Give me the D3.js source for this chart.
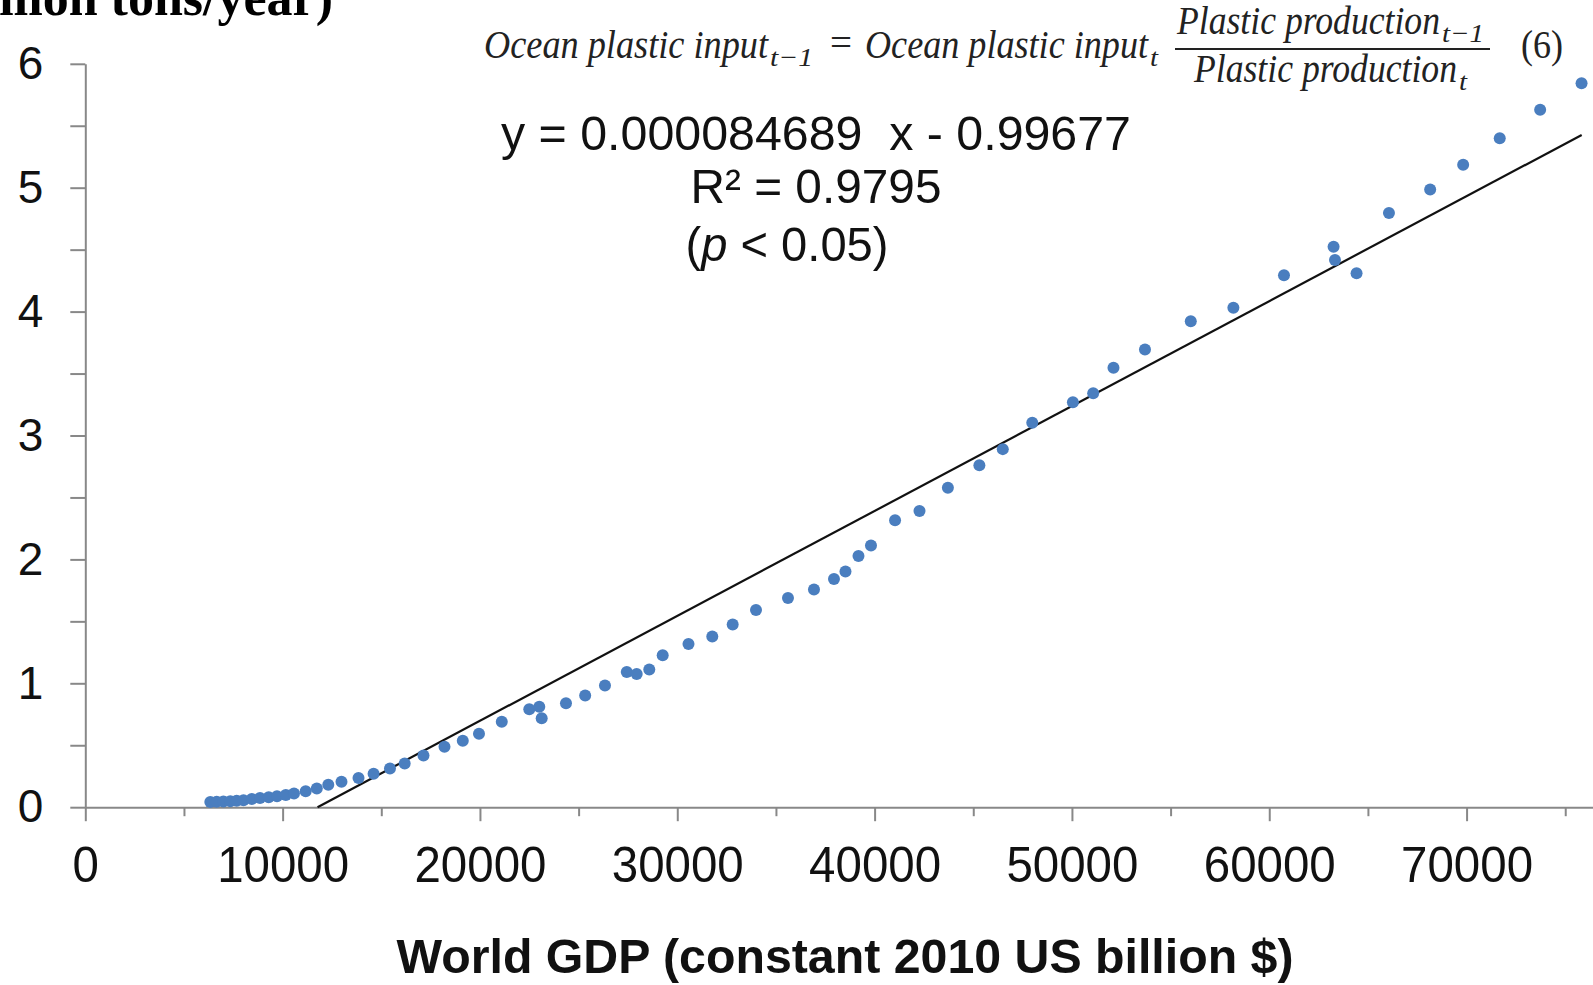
<!DOCTYPE html>
<html>
<head>
<meta charset="utf-8">
<script src="https://cdn.jsdelivr.net/npm/d3@7"></script>
<style>
  html, body { margin: 0; padding: 0; background: #fff; overflow: hidden; }
  svg { display: block; }
</style>
</head>
<body>
<script>
// ---------------- DATA ----------------
// World GDP (constant 2010 US billion $)
const gdp = [
  6335, 6659, 6998, 7348, 7672, 8017, 8438, 8853, 9294, 9715,
  10161, 10576, 11169, 11732, 12314, 12983, 13845, 14610, 15441, 16186,
  17139, 18203, 19130, 19951, 21106, 22500, 23007, 23129, 24360, 25333,
  26336, 27441, 27943, 28581, 29261, 30568, 31774, 32808, 33989, 35610,
  36928, 37941, 38524, 39183, 39817, 41037, 42275, 43714, 45310, 46496,
  47990, 50049, 51077, 52106, 53702, 56023, 58182, 60747, 63260, 63331,
  64425, 66067, 68155, 69827, 71681, 73729, 75827
];
// Ocean plastic input (million tons/year)
const oceanInput = [
  0.042, 0.044, 0.046, 0.048, 0.052, 0.056, 0.066, 0.074, 0.081, 0.088,
  0.098, 0.111, 0.129, 0.151, 0.181, 0.205, 0.235, 0.270, 0.313, 0.352,
  0.418, 0.488, 0.536, 0.592, 0.690, 0.790, 0.811, 0.718, 0.839, 0.902,
  0.983, 1.091, 1.075, 1.111, 1.226, 1.317, 1.378, 1.475, 1.592, 1.688,
  1.757, 1.842, 1.902, 2.027, 2.112, 2.316, 2.391, 2.579, 2.759, 2.890,
  3.103, 3.268, 3.341, 3.546, 3.694, 3.923, 4.031, 4.293, 4.523, 4.416,
  4.309, 4.796, 4.985, 5.185, 5.400, 5.629, 5.843
];
// Linear trend (slope, intercept) and its drawn x-extent
const trendSlope = 0.000084689;
const trendIntercept = -0.99677;
const trendXEnd = 75834;

const xMajorTicks = [0, 10000, 20000, 30000, 40000, 50000, 60000, 70000];
const xMinorTicks = [5000, 15000, 25000, 35000, 45000, 55000, 65000, 75000];
const yMajorTicks = [0, 1, 2, 3, 4, 5, 6];
const yMinorTicks = [0.5, 1.5, 2.5, 3.5, 4.5, 5.5];

const xTitle = "World GDP (constant 2010 US billion $)";
const yTitle = "(million tons/year)";
const eqLine1 = "y = 0.000084689  x - 0.99677";
const eqLine2 = "R² = 0.9795";

// ---------------- CHART ----------------
const W = 1593, H = 985;
const svg = d3.select("body").append("svg").attr("width", W).attr("height", H);

const x = d3.scaleLinear().domain([0, 80000]).range([85.3, 1663.9]);
const y = d3.scaleLinear().domain([0, 6]).range([807.2, 63.8]);

const axisColor = "#888";
const sans = "'Liberation Sans', Arial, Helvetica, sans-serif";
const serif = "'Liberation Serif', 'Times New Roman', Times, serif";

// X axis (major, labelled)
const gx = svg.append("g").attr("transform", `translate(0,${y(0)})`)
  .call(d3.axisBottom(x).tickValues(xMajorTicks).tickSize(14).tickSizeOuter(0)
        .tickPadding(25).tickFormat(d3.format("d")));
gx.select(".domain").attr("stroke", axisColor).attr("stroke-width", 2);
gx.selectAll(".tick line").attr("stroke", axisColor).attr("stroke-width", 2);
gx.selectAll(".tick text")
  .attr("fill", "#111").style("font-family", sans).style("font-size", "50px")
  .each(function(d) {
    const n = String(d).length;
    d3.select(this).attr("textLength", n * 26.4).attr("lengthAdjust", "spacingAndGlyphs");
  });

// X minor ticks
const gxm = svg.append("g").attr("transform", `translate(0,${y(0)})`)
  .call(d3.axisBottom(x).tickValues(xMinorTicks).tickSize(9).tickFormat(""));
gxm.select(".domain").remove();
gxm.selectAll(".tick line").attr("stroke", axisColor).attr("stroke-width", 2);

// Y axis
const gy = svg.append("g").attr("transform", `translate(${x(0)},0)`)
  .call(d3.axisLeft(y).tickValues(yMajorTicks).tickSize(15).tickSizeOuter(0)
        .tickPadding(27).tickFormat(d3.format("d")));
gy.select(".domain").attr("stroke", axisColor).attr("stroke-width", 2);
gy.selectAll(".tick line").attr("stroke", axisColor).attr("stroke-width", 2);
gy.selectAll(".tick text")
  .attr("fill", "#111").style("font-family", sans).style("font-size", "46px");

const gym = svg.append("g").attr("transform", `translate(${x(0)},0)`)
  .call(d3.axisLeft(y).tickValues(yMinorTicks).tickSize(15).tickFormat(""));
gym.select(".domain").remove();
gym.selectAll(".tick line").attr("stroke", axisColor).attr("stroke-width", 2);

// Trend line
const xStart = -trendIntercept / trendSlope;
svg.append("line")
  .attr("x1", x(xStart)).attr("y1", y(trendSlope * xStart + trendIntercept))
  .attr("x2", x(trendXEnd)).attr("y2", y(trendSlope * trendXEnd + trendIntercept))
  .attr("stroke", "#111").attr("stroke-width", 2.2);

// Points
const pts = gdp.map((g, i) => ({ g, v: oceanInput[i] }));
svg.append("g").selectAll("circle").data(pts).join("circle")
  .attr("cx", d => x(d.g)).attr("cy", d => y(d.v)).attr("r", 6)
  .attr("fill", "#4a7ebf");

// Regression annotation
svg.append("text").attr("x", 816).attr("y", 150).attr("text-anchor", "middle")
  .style("font-family", sans).style("font-size", "49px").style("white-space", "pre")
  .attr("textLength", 630).attr("lengthAdjust", "spacingAndGlyphs")
  .attr("fill", "#111").text(eqLine1);
svg.append("text").attr("x", 816).attr("y", 203).attr("text-anchor", "middle")
  .style("font-family", sans).style("font-size", "49px")
  .attr("textLength", 251).attr("lengthAdjust", "spacingAndGlyphs")
  .attr("fill", "#111").text(eqLine2);
const pt = svg.append("text").attr("x", 787).attr("y", 261).attr("text-anchor", "middle")
  .style("font-family", sans).style("font-size", "49px")
  .attr("textLength", 203).attr("lengthAdjust", "spacingAndGlyphs")
  .attr("fill", "#111");
pt.append("tspan").text("(");
pt.append("tspan").style("font-style", "italic").text("p");
pt.append("tspan").text(" < 0.05)");

// X axis title
svg.append("text").attr("x", 845).attr("y", 973).attr("text-anchor", "middle")
  .style("font-family", sans).style("font-size", "48px").style("font-weight", "bold")
  .attr("textLength", 897).attr("lengthAdjust", "spacingAndGlyphs")
  .attr("fill", "#111").text(xTitle);

// Y axis title (cropped at the top-left, as in the source)
svg.append("text").attr("x", 333).attr("y", 15).attr("text-anchor", "end")
  .style("font-family", serif).style("font-size", "52px").style("font-weight", "bold")
  .attr("fill", "#000").text(yTitle);

// Equation (6): each subscripted term is one text element with tspans
const eqColor = "#222";
function eqTerm(base, sub, px, py, baseLen, subLen, subGap) {
  const t = svg.append("text").attr("x", px).attr("y", py)
    .style("font-family", serif).style("font-style", "italic")
    .attr("fill", eqColor);
  t.append("tspan").attr("x", px).attr("y", py).style("font-size", "39px")
    .attr("textLength", baseLen).attr("lengthAdjust", "spacingAndGlyphs").text(base);
  t.append("tspan").attr("x", px + baseLen + subGap).attr("y", py + 8).style("font-size", "26px")
    .attr("textLength", subLen).attr("lengthAdjust", "spacingAndGlyphs").text(sub);
  return t;
}
eqTerm("Ocean plastic input", "t−1", 484, 58, 284, 43, 2);
svg.append("text").attr("x", 841).attr("y", 56).attr("text-anchor", "middle")
  .style("font-family", serif).style("font-size", "39px").attr("fill", eqColor).text("=");
eqTerm("Ocean plastic input", "t", 865, 58, 283, 8, 2);
eqTerm("Plastic production", "t−1", 1177, 34, 263, 42, 2);
svg.append("line").attr("x1", 1175).attr("x2", 1490).attr("y1", 49).attr("y2", 49)
  .attr("stroke", eqColor).attr("stroke-width", 2);
eqTerm("Plastic production", "t", 1194, 82, 263, 8, 2);
svg.append("text").attr("x", 1521).attr("y", 58)
  .style("font-family", serif).style("font-size", "39px")
  .attr("textLength", 42).attr("lengthAdjust", "spacingAndGlyphs")
  .attr("fill", eqColor).text("(6)");
</script>
</body>
</html>
